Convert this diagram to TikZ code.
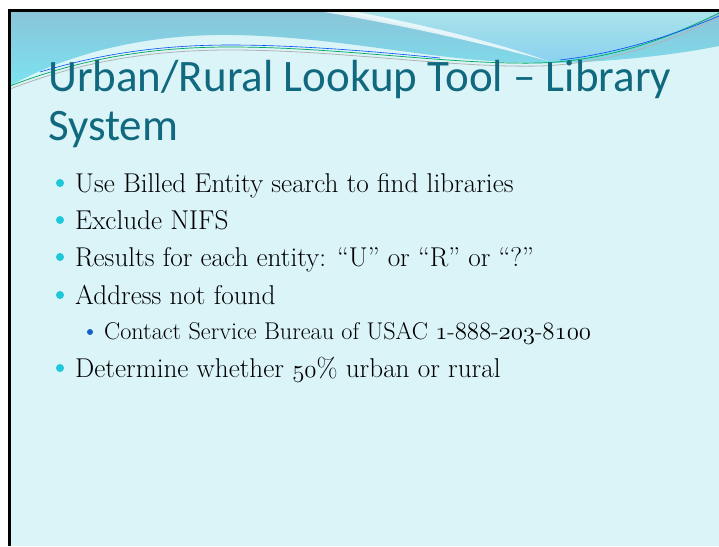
\documentclass[tikz,border=0pt]{standalone}
\usepackage{fontspec}
\newfontfamily\headfont{Carlito}
\usetikzlibrary{positioning}

\definecolor{slidebg}{HTML}{DBF4F8}
\definecolor{headteal}{HTML}{11697F}
\definecolor{wavetop}{HTML}{8AC4DA}
\definecolor{wavelow}{HTML}{7BE3EF}
\definecolor{waveltop}{HTML}{AAE3EA}
\definecolor{wavellow}{HTML}{8CD2EF}
\definecolor{dotcyan}{HTML}{1CC8DA}
\definecolor{dotblue}{HTML}{1560C8}
\newcommand\osn[1]{$\mathnormal{#1}$}

\tikzset{
  headline/.style={anchor=base west, inner sep=0pt, text=headteal, font=\headfont\fontsize{45}{52}\selectfont},
  bodyline/.style={anchor=base west, inner sep=0pt, font=\fontsize{27.2}{32}\selectfont},
  subline/.style={anchor=base west, inner sep=0pt, font=\fontsize{24.2}{28}\selectfont},
  bigdot/.style={circle, fill=dotcyan, inner sep=0pt, minimum size=8pt},
  smalldot/.style={circle, fill=dotblue, inner sep=0pt, minimum size=6pt}
}

\begin{document}
\begin{tikzpicture}[x=1pt,y=-1pt]
\useasboundingbox (0,0) rectangle (719,546);
\fill [slidebg] (10,11) rectangle (719,546);

% waves at the top
\shade [top color=wavetop, bottom color=wavelow]
  (10,11) -- (719,11) -- (719,46)
  .. controls (680,54) and (610,63) .. (540,63)
  .. controls (440,63) and (340,36) .. (230,35)
  .. controls (150,34) and (70,52) .. (10,86) -- cycle;
\shade [top color=waveltop, bottom color=wavellow]
  (336,11) .. controls (420,26) and (490,46) .. (545,60)
  .. controls (620,58) and (680,30) .. (719,13) -- (719,11) -- cycle;
\fill [white, opacity=0.75]
  (318,11) .. controls (420,28) and (500,48) .. (548,61)
  .. controls (490,40) and (410,22) .. (352,11) -- cycle;
\draw [gray!60, line width=0.8pt]
  (10,89) .. controls (80,62) and (150,50) .. (230,50)
  .. controls (340,50) and (450,68) .. (540,66)
  .. controls (620,63) and (680,36) .. (719,17);
\draw [teal!70!green, line width=0.7pt]
  (10,86) .. controls (80,59) and (150,47) .. (230,47)
  .. controls (340,47) and (450,65) .. (540,63)
  .. controls (620,60) and (680,32) .. (719,13);
\draw [blue!70!cyan, line width=0.6pt]
  (40,72) .. controls (100,54) and (160,45) .. (230,45)
  .. controls (300,45) and (380,52) .. (440,58);
\draw [blue!70!cyan, line width=0.6pt]
  (560,60) .. controls (630,52) and (690,28) .. (719,16);

% frame
\draw [line width=2.5pt] (9.5,546) -- (9.5,10.5) -- (719,10.5);

% title
\node (head1) [headline] at (48,91) {Urban/Rural Lookup Tool – Library};
\node (head2) [headline] at (48,140) {System};

% bullets
\node (d1) [bigdot] at (60,183) {};
\node (t1) [bodyline] at (75,192) {Use Billed Entity search to find libraries};
\node (d2) [bigdot] at (60,220) {};
\node (t2) [bodyline] at (75,229) {Exclude NIFS};
\node (d3) [bigdot] at (60,257) {};
\node (t3) [bodyline] at (75,266) {Results for each entity: ``U'' or ``R'' or ``?''};
\node (d4) [bigdot] at (60,295) {};
\node (t4) [bodyline] at (75,304) {Address not found};
\node (d5) [smalldot] at (90,332) {};
\node (t5) [subline] at (104,339) {Contact Service Bureau of USAC \osn{1}-\osn{888}-\osn{203}-\osn{8100}};
\node (d6) [bigdot] at (60,368) {};
\node (t6) [bodyline] at (75,377) {Determine whether \osn{50}\% urban or rural};
\end{tikzpicture}
\end{document}
